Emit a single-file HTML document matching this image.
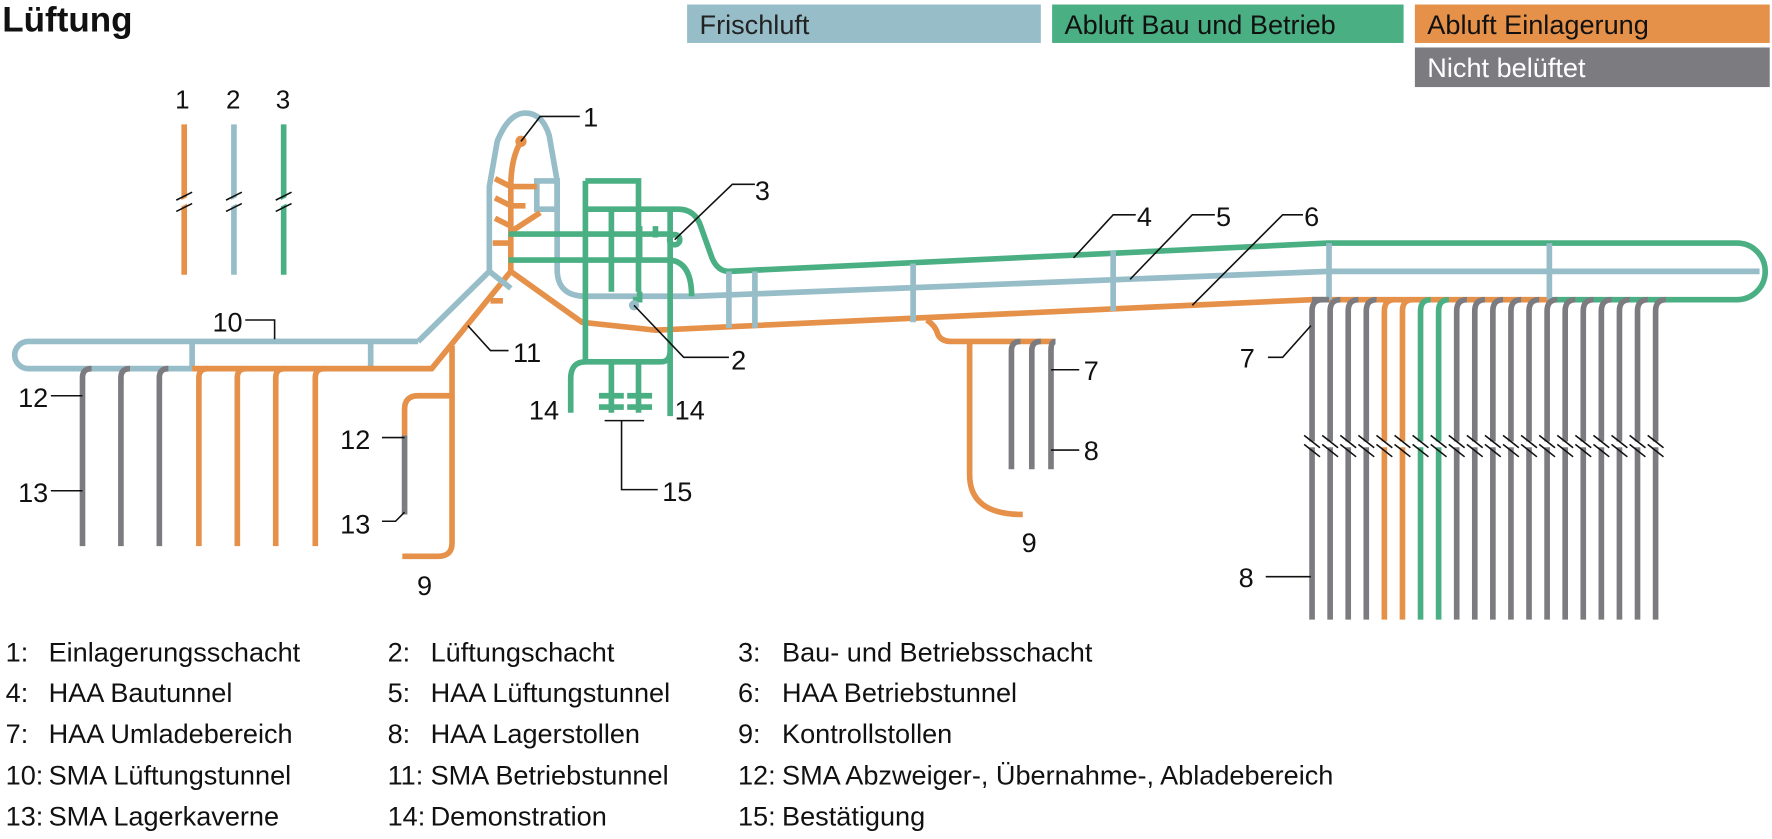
<!DOCTYPE html>
<html><head><meta charset="utf-8"><style>
html,body{margin:0;padding:0;background:#fff}
svg{display:block}
text{font-family:"Liberation Sans",sans-serif;fill:#111}
</style></head><body>
<svg width="1772" height="839" viewBox="0 0 1568 742" preserveAspectRatio="none" xmlns="http://www.w3.org/2000/svg">
<defs><style>
.b{stroke:#97bdc8;stroke-width:5;fill:none}
.g{stroke:#4aaf83;stroke-width:5;fill:none}
.o{stroke:#e6914a;stroke-width:5;fill:none}
.k{stroke:#7c7b80;stroke-width:5;fill:none}
.l{stroke:#111;stroke-width:1.4;fill:none}
.n{font-size:23px}
</style></defs>

<text x="2" y="28" style="font-size:31px;font-weight:bold">Lüftung</text>
<rect x="608" y="4" width="313" height="34" fill="#97bdc8"/>
<text x="619" y="30" style="font-size:24px;fill:#222">Frischluft</text>
<rect x="931" y="4" width="311" height="34" fill="#4aaf83"/>
<text x="942" y="30" style="font-size:24px;fill:#111">Abluft Bau und Betrieb</text>
<rect x="1252" y="4" width="314" height="34" fill="#e6914a"/>
<text x="1263" y="30" style="font-size:24px;fill:#111">Abluft Einlagerung</text>
<rect x="1252" y="42" width="314" height="35" fill="#7c7b80"/>
<text x="1263" y="68" style="font-size:24px;fill:#fff">Nicht belüftet</text>

<!-- small key -->
<text x="155" y="96" class="n">1</text><text x="200" y="96" class="n">2</text><text x="244" y="96" class="n">3</text>
<line x1="163" y1="110" x2="163" y2="243" class="o"/>
<line x1="207" y1="110" x2="207" y2="243" class="b"/>
<line x1="251" y1="110" x2="251" y2="243" class="g"/>
<g stroke="#fff" stroke-width="5"><path d="M156 182l14 -7M200 182l14 -7M244 182l14 -7"/></g>
<g class="l"><path d="M156 177l14 -7M156 187l14 -7M200 177l14 -7M200 187l14 -7M244 177l14 -7M244 187l14 -7"/></g>

<!-- left SMA -->
<path class="b" d="M370 302 H25 A12 12 0 0 0 25 326 H170 M170 302 V326 M328 302 V326 M370 302 L433 240"/>
<path class="o" d="M170 326 H382 L452 240"/>
<g class="k"><path d="M73 483 V334 Q73 326 81 326 M107 483 V334 Q107 326 115 326 M141 483 V334 Q141 326 149 326"/></g>
<g class="o"><path d="M176 483 V334 Q176 326 184 326 M210 483 V334 Q210 326 218 326 M244 483 V334 Q244 326 252 326 M279 483 V334 Q279 326 287 326"/></g>
<path class="o" d="M400 306 V480 Q400 492 388 492 H356 M400 350 H370 Q358 350 358 362 V385"/>
<path class="k" d="M358 385 V455"/>

<!-- shaft loop blue -->
<path class="b" d="M433 240 V165 L440 125 Q450 100 465 100 Q480 100 486 120 L493 160 V238 Q493 262 518 262 H615 L1175 240 H1557"/>
<path class="b" d="M433 240 L452 255 M475 160 H493 V185 H475 Z"/>
<!-- orange shaft -->
<circle cx="461" cy="125" r="5" fill="#e6914a"/>
<path class="o" d="M461 125 Q452 140 452 165 V240 L515 285 L580 292 L1161 265 H1370"/>
<path class="o" d="M452 165 L438 158 M452 182 L438 175 M452 200 L438 193 M452 215 H436 M452 165 H475 M452 182 H465 M452 205 L478 188 M434 266 H445"/>

<!-- green grid -->
<g class="g">
<path d="M518 160 H565 V185 M518 160 V320 H585 Q593 320 593 310 V368"/>
<path d="M518 185 H600 Q615 185 620 200 L630 228 Q635 240 645 240 L1175 215 H1537 A25 25 0 0 1 1537 265 H1370"/>
<path d="M450 207 H593 M450 230 H593 Q612 232 612 262"/>
<path d="M541 185 V258 M565 185 V258 M593 185 V310 M566 200 V230 M580 200 V210 M566 258 V265 H560"/>
<circle cx="597" cy="212" r="4.5"/>
<path d="M518 320 Q505 320 505 335 V365 M541 320 V365 M565 320 V365 M530 350 H552 M530 360 H552 M555 350 H577 M555 360 H577"/>
</g>
<circle cx="561" cy="270" r="4.5" fill="#97bdc8"/>

<!-- cross connections -->
<g class="b"><path d="M645 240 V290 M668 240 V290 M808 233 V285 M985 222 V275 M1176 215 V265 M1371 215 V265"/></g>

<!-- right orange 9 and 7/8 -->
<path class="o" d="M820 283 Q828 288 830 296 Q833 302 842 302 H932 M858 302 V420 Q858 455 905 455"/>
<g class="k"><path d="M895 415 V310 Q895 302 903 302 M913 415 V310 Q913 302 921 302 M930 415 V310 Q930 302 934 302"/></g>

<!-- right gallery -->
<path class="k" d="M1161 548 V275 Q1161 265 1170 265 M1177 548 V275 Q1177 265 1186 265 M1193 548 V275 Q1193 265 1202 265 M1209 548 V275 Q1209 265 1218 265"/>
<path class="o" d="M1225 548 V275 Q1225 265 1234 265 M1241 548 V275 Q1241 265 1250 265"/>
<path class="g" d="M1257 548 V275 Q1257 265 1266 265 M1273 548 V275 Q1273 265 1282 265"/>
<path class="k" d="M1289 548 V275 Q1289 265 1298 265 M1305 548 V275 Q1305 265 1314 265 M1321 548 V275 Q1321 265 1330 265 M1337 548 V275 Q1337 265 1346 265 M1353 548 V275 Q1353 265 1362 265 M1369 548 V275 Q1369 265 1378 265 M1385 548 V275 Q1385 265 1394 265 M1401 548 V275 Q1401 265 1410 265 M1417 548 V275 Q1417 265 1426 265 M1433 548 V275 Q1433 265 1442 265 M1449 548 V275 Q1449 265 1458 265 M1465 548 V275 Q1465 265 1474 265"/>
<path stroke="#7c7b80" stroke-width="5" d="M1161 265 H1176"/>
<g stroke="#fff" stroke-width="5"><path d="M1155 393 L1475 393"/></g>
<path class="l" d="M1154 385l14 11M1154 393l14 11M1170 385l14 11M1170 393l14 11M1186 385l14 11M1186 393l14 11M1202 385l14 11M1202 393l14 11M1218 385l14 11M1218 393l14 11M1234 385l14 11M1234 393l14 11M1250 385l14 11M1250 393l14 11M1266 385l14 11M1266 393l14 11M1282 385l14 11M1282 393l14 11M1298 385l14 11M1298 393l14 11M1314 385l14 11M1314 393l14 11M1330 385l14 11M1330 393l14 11M1346 385l14 11M1346 393l14 11M1362 385l14 11M1362 393l14 11M1378 385l14 11M1378 393l14 11M1394 385l14 11M1394 393l14 11M1410 385l14 11M1410 393l14 11M1426 385l14 11M1426 393l14 11M1442 385l14 11M1442 393l14 11M1458 385l14 11M1458 393l14 11"/>

<!-- leaders and labels -->
<g class="l">
<path d="M461 125 L478 103 H513"/>
<path d="M597 212 L648 163 H668"/>
<path d="M561 270 L605 316 H645"/>
<path d="M950 228 L985 190 H1005"/>
<path d="M1000 247 L1055 190 H1075"/>
<path d="M1055 270 L1135 190 H1153"/>
<path d="M1160 288 L1135 316 H1122"/>
<path d="M1120 510 H1160"/>
<path d="M217 283 H243 V300"/>
<path d="M414 288 L434 310 H450"/>
<path d="M45 350 H73 M45 434 H73 M338 387 H358 M338 461 H350 L358 453"/>
<path d="M930 327 H955 M930 398 H955"/>
<path d="M535 372 H570 M550 372 V433 H582"/>
</g>
<g style="font-size:24px">
<text x="516" y="112">1</text><text x="668" y="177">3</text><text x="647" y="327">2</text>
<text x="1006" y="200">4</text><text x="1076" y="200">5</text><text x="1154" y="200">6</text>
<text x="1097" y="325">7</text><text x="1096" y="519">8</text>
<text x="188" y="293">10</text><text x="454" y="320">11</text>
<text x="16" y="360">12</text><text x="16" y="444">13</text>
<text x="301" y="397">12</text><text x="301" y="472">13</text>
<text x="468" y="371">14</text><text x="597" y="371">14</text>
<text x="586" y="443">15</text>
<text x="959" y="336">7</text><text x="959" y="407">8</text>
<text x="904" y="488">9</text><text x="369" y="526">9</text>
</g>

<!-- legend text -->
<g style="font-size:24px">
<text x="5" y="585">1:</text><text x="43" y="585">Einlagerungsschacht</text>
<text x="343" y="585">2:</text><text x="381" y="585">Lüftungschacht</text>
<text x="653" y="585">3:</text><text x="692" y="585">Bau- und Betriebsschacht</text>
<text x="5" y="621">4:</text><text x="43" y="621">HAA Bautunnel</text>
<text x="343" y="621">5:</text><text x="381" y="621">HAA Lüftungstunnel</text>
<text x="653" y="621">6:</text><text x="692" y="621">HAA Betriebstunnel</text>
<text x="5" y="657">7:</text><text x="43" y="657">HAA Umladebereich</text>
<text x="343" y="657">8:</text><text x="381" y="657">HAA Lagerstollen</text>
<text x="653" y="657">9:</text><text x="692" y="657">Kontrollstollen</text>
<text x="5" y="694">10:</text><text x="43" y="694">SMA Lüftungstunnel</text>
<text x="343" y="694">11:</text><text x="381" y="694">SMA Betriebstunnel</text>
<text x="653" y="694">12:</text><text x="692" y="694">SMA Abzweiger-, Übernahme-, Abladebereich</text>
<text x="5" y="730">13:</text><text x="43" y="730">SMA Lagerkaverne</text>
<text x="343" y="730">14:</text><text x="381" y="730">Demonstration</text>
<text x="653" y="730">15:</text><text x="692" y="730">Bestätigung</text>
</g>
</svg>
</body></html>
